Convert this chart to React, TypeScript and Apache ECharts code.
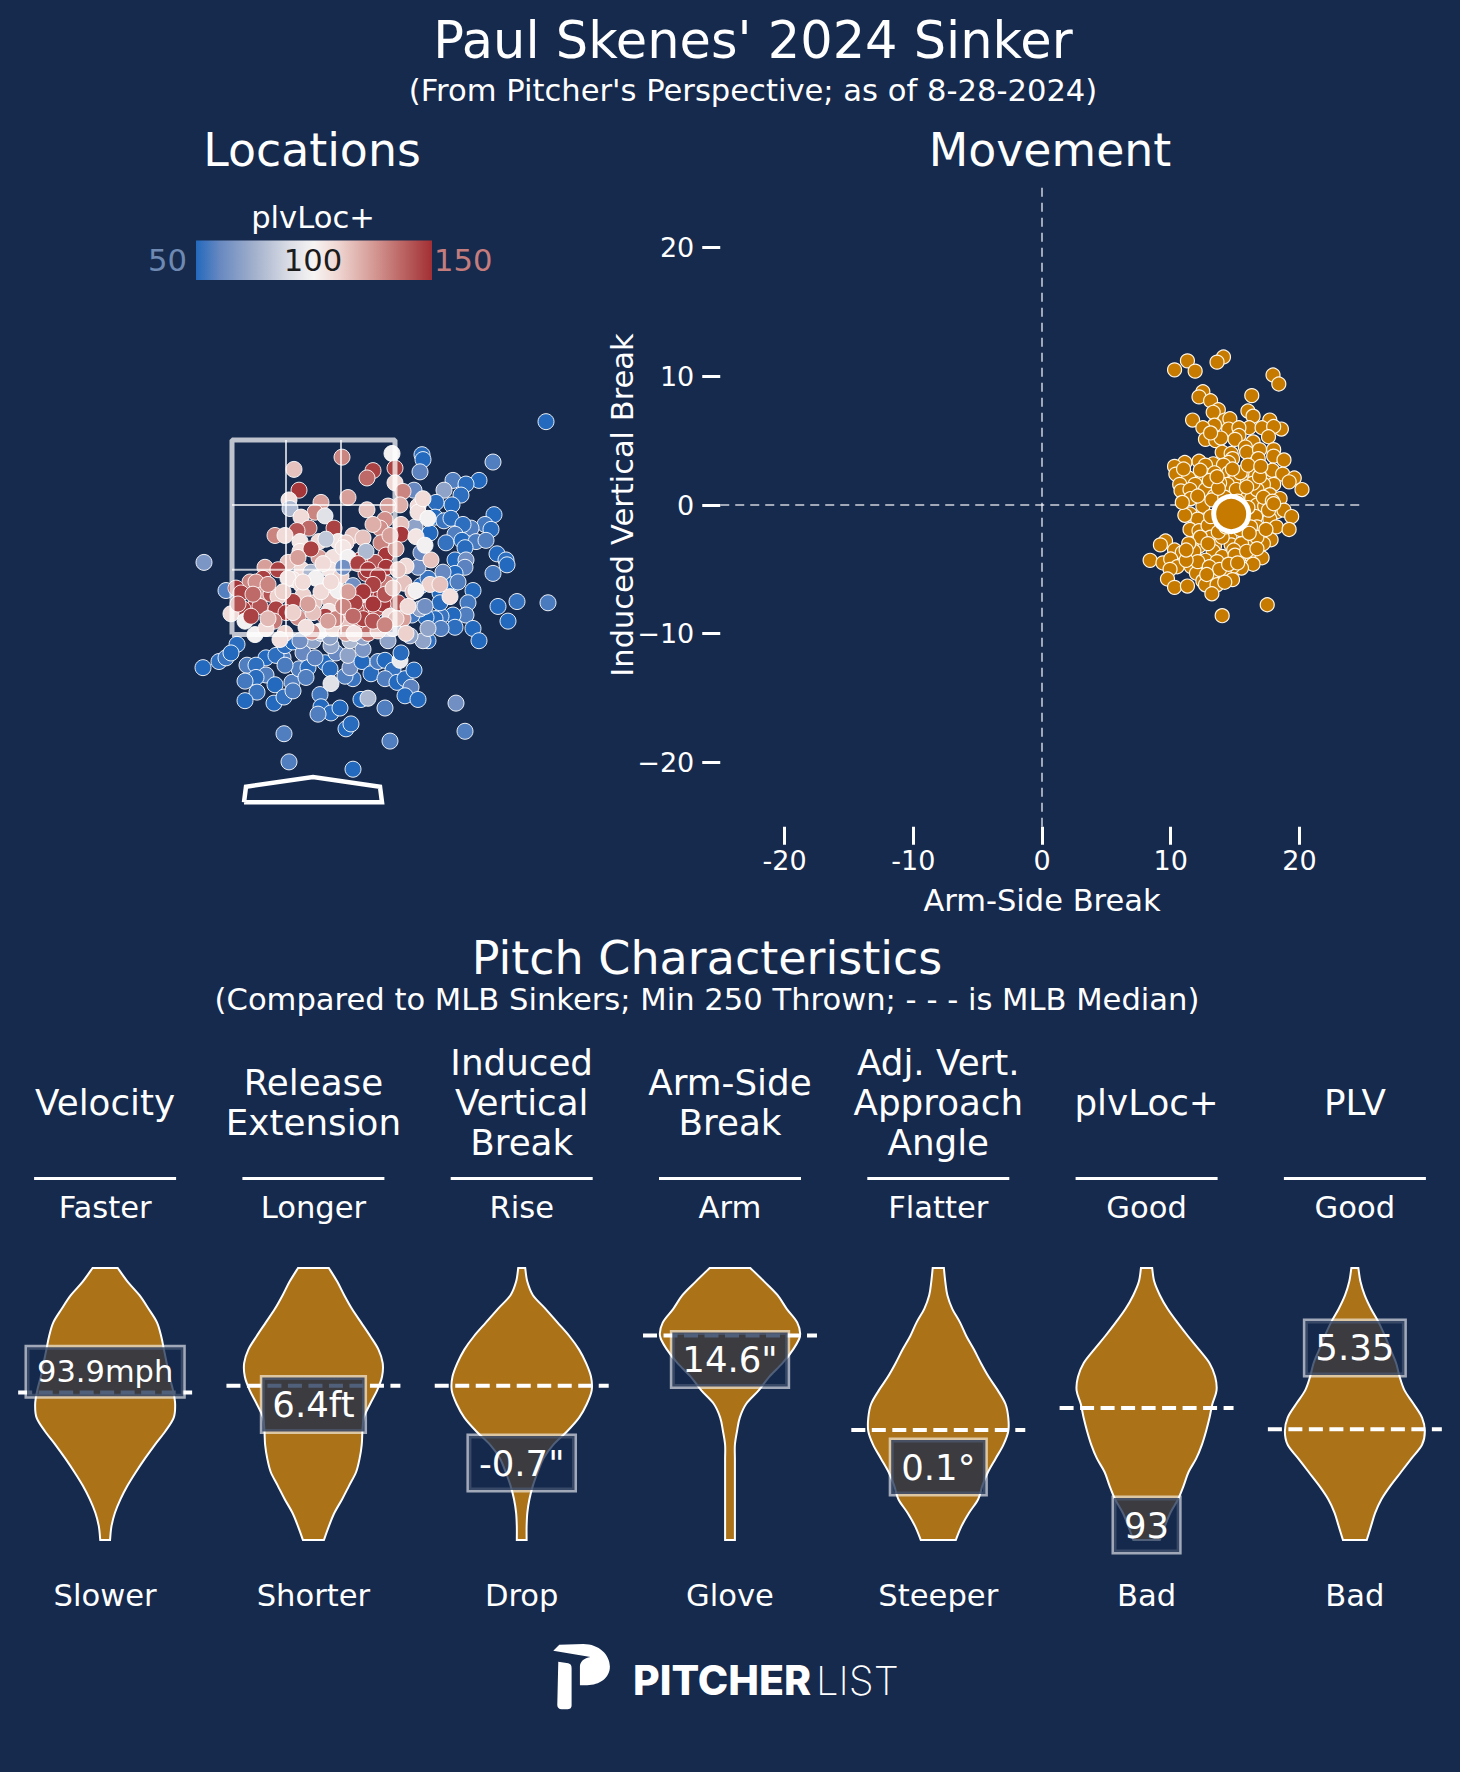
import React, { useEffect, useRef } from "react";
import * as echarts from "echarts";

const FONT = "'DejaVu Sans'";
const BG = "#162a4e";
const ORANGE = "#c67b00";
const VIOLIN = "#ab7218";

// Locations: [horizontal, height, plvLoc+]
const locationPoints = [
[2.33,3.11,50],[1.80,2.78,62],[1.09,2.84,55],[1.10,2.80,52],[1.07,2.70,64],[1.66,2.63,52],[1.40,2.63,62],[1.53,2.60,55],[1.31,2.55,74],[1.48,2.51,56],
[1.01,2.55,66],[1.39,2.43,52],[1.23,2.45,55],[1.81,2.35,52],[1.22,2.33,52],[1.31,2.30,58],[1.38,2.32,55],[1.72,2.27,60],[1.78,2.23,55],[1.58,2.24,62],
[1.50,2.27,56],[1.42,2.19,62],[1.17,2.20,52],[1.02,2.25,74],[1.33,2.12,57],[1.49,2.14,52],[1.63,2.13,61],[1.73,2.14,62],[1.52,2.08,55],[1.42,1.98,52],
[1.53,1.98,68],[1.84,2.03,52],[1.93,1.98,56],[1.94,1.94,52],[1.52,1.92,64],[1.80,1.87,60],[1.42,1.87,52],[1.30,1.88,66],[1.40,1.78,52],[1.45,1.80,62],
[1.60,1.73,52],[1.55,1.63,60],[1.85,1.60,52],[2.04,1.64,57],[2.35,1.63,61],[1.95,1.48,52],[1.53,1.53,62],[1.40,1.53,52],[1.28,1.52,58],[1.22,1.50,55],
[1.13,1.51,52],[0.99,1.53,60],[1.27,1.71,52],[1.27,1.63,55],[1.60,1.42,52],[1.66,1.32,52],[1.42,1.43,56],[1.28,1.42,62],[1.15,1.32,56],[1.10,1.32,74],
[0.97,1.36,74],[1.08,1.77,57],[1.15,1.83,58],[1.05,1.92,68],[1.08,2.04,66],[1.07,1.58,74],[1.15,1.42,74],[1.12,1.60,68],
[-1.09,1.96,70],[-0.87,1.73,62],[-0.76,1.29,55],[-0.94,1.15,56],[-0.87,1.18,58],[-0.82,1.22,52],[-1.10,1.10,52],[-0.66,1.12,62],[-0.47,1.18,52],[-0.30,1.18,62],
[-0.37,1.20,56],[-0.28,1.28,56],[-0.20,1.31,52],[-0.57,1.12,56],[-0.47,1.04,62],[-0.57,1.02,55],[-0.68,0.99,60],[-0.56,0.90,58],[-0.68,0.83,52],[-0.38,0.96,52],
[-0.39,0.81,52],[-0.29,0.86,57],[-0.21,0.98,62],[-0.20,0.91,61],[-0.10,1.22,66],[-0.14,1.09,62],[-0.05,1.10,55],[-0.07,1.02,62],[-0.28,1.12,61],[0.12,1.14,52],
[0.17,1.09,55],[0.23,1.22,66],[0.18,1.28,74],[0.02,1.18,64],[0.07,0.88,60],[0.08,0.78,52],[0.18,0.73,55],[0.27,0.77,52],[0.05,0.72,62],[0.33,0.60,52],
[0.38,0.64,55],[0.18,0.97,92],[0.40,1.01,58],[0.32,1.03,62],[0.37,1.10,68],[0.35,1.20,74],[0.49,1.15,52],[0.50,1.25,70],[0.48,0.84,52],[0.55,0.85,80],
[0.72,0.77,62],[0.58,1.05,55],[0.65,1.15,61],[0.72,1.16,52],[0.80,1.08,57],[0.72,1.01,62],[0.84,0.98,52],[0.92,1.01,55],[1.01,1.08,52],[0.98,0.94,64],
[0.92,0.87,52],[1.05,0.84,52],[0.87,1.16,97],[0.88,1.22,55],[1.43,0.81,68],[1.52,0.58,62],[-0.29,0.56,62],[0.77,0.50,62],[-0.24,0.33,62],[0.40,0.27,52],
[0.75,1.32,74],[0.00,1.32,74],[0.08,1.38,80],[0.37,1.32,80],[0.50,1.35,74],[0.17,1.35,74],[-0.13,1.32,68],
[0.79,2.85,100],[0.29,2.82,130],[-0.19,2.72,118],[0.60,2.71,145],[0.54,2.65,135],[0.82,2.73,145],[0.82,2.61,113],[-0.14,2.55,148],[-0.24,2.47,110],[-0.23,2.40,80],
[0.08,2.45,125],[0.35,2.49,125],[0.54,2.39,118],[0.90,2.54,130],[0.87,2.43,122],[0.75,2.42,125],[1.05,2.42,112],[1.05,2.37,110],[0.02,2.37,130],[-0.12,2.33,112],
[0.12,2.34,92],[0.72,2.31,128],[0.88,2.27,118],[0.67,2.24,128],[0.60,2.27,122],[0.21,2.24,145],[-0.04,2.24,135],[-0.16,2.22,140],[-0.38,2.18,130],[-0.28,2.18,112],
[0.88,2.19,148],[0.40,2.18,118],[0.50,2.16,118],[0.25,2.13,108],[0.33,2.12,115],[0.68,2.12,130],[0.06,2.13,112],[-0.13,2.13,108],[-0.13,2.05,110],[0.73,2.02,148],
[0.47,1.98,148],[0.62,1.96,140],[0.73,1.92,148],[0.06,2.00,125],[0.20,2.00,110],[-0.02,2.07,145],[1.18,1.98,118],[0.93,1.93,112],[-0.25,1.96,118],[-0.48,1.92,125],
[-0.35,1.90,145],[-0.11,1.90,112],[-0.02,1.88,80],[0.53,1.87,145],[0.17,1.90,108],[-0.63,1.80,130],[-0.50,1.83,145],[-0.57,1.80,128],[-0.77,1.75,148],[-0.72,1.71,145],
[-0.20,1.82,108],[-0.25,1.83,108],[-0.12,1.78,112],[0.28,1.85,115],[0.40,1.77,68],[0.73,1.79,132],[0.58,1.73,148],[0.91,1.79,118],[1.00,1.72,118],[0.13,1.75,92],
[0.68,1.69,148],[-0.50,1.70,125],[-0.42,1.70,140],[-0.35,1.68,115],[-0.10,1.69,115],[-0.20,1.64,145],[0.01,1.63,118],[0.41,1.65,132],[0.50,1.67,110],[0.85,1.63,140],
[0.27,1.62,118],[0.17,1.65,120],[-0.57,1.62,148],[-0.53,1.60,140],[-0.70,1.58,145],[-0.82,1.54,112],[-0.68,1.48,100],[-0.37,1.58,145],[-0.27,1.55,148],[-0.15,1.51,128],
[-0.39,1.48,132],[0.16,1.56,108],[0.12,1.52,145],[0.33,1.52,125],[0.53,1.57,145],[0.63,1.58,140],[0.70,1.62,148],[0.43,1.58,140],[0.45,1.47,130],[0.33,1.45,118],
[0.55,1.43,145],[0.55,1.38,135],[0.07,1.40,100],[-0.01,1.39,128],[0.20,1.42,112],[0.33,1.38,125],[0.65,1.40,118],[0.80,1.42,84],[0.90,1.50,125],[0.93,1.38,115],
[-0.58,1.37,100],[-0.47,1.42,112],[-0.28,1.38,115],[-0.33,1.33,110],[-0.07,1.43,110],[0.00,1.55,118],[0.23,1.50,130],[0.41,1.38,108],[0.77,1.52,110],[0.83,1.50,118],
[1.37,1.68,110],[1.17,1.78,115],[1.27,1.78,118],[1.03,1.73,100],[1.10,2.48,112],[1.15,2.32,100],[1.03,2.17,108],[1.12,2.10,100],[0.83,2.07,125],[0.77,2.18,125],
[0.30,2.08,108],[0.13,2.15,84],[0.53,2.05,80],[0.35,2.00,100],[0.30,1.92,68],[0.03,1.83,100],[0.25,1.73,100],
[0.45,1.95,145],[0.55,1.90,148],[0.65,1.85,148],[0.60,1.78,145],[0.50,1.72,148],[0.42,1.63,145],[0.60,1.62,148],[0.72,1.70,140],[0.35,1.72,125],[0.30,1.60,130],
[0.50,1.50,145],[0.60,1.48,140],[0.40,1.52,135],[0.72,1.45,130],[0.15,1.48,125],[-0.05,1.62,125],[-0.20,1.55,115],[-0.45,1.50,120],[-0.60,1.70,135],[-0.75,1.62,140],
[-0.62,1.52,145],[-0.45,1.78,130],[-0.30,1.72,115],[-0.10,1.80,112],[0.08,1.72,112],[0.18,1.80,112],[0.85,1.90,118],[0.80,1.75,118],[0.95,1.60,112],[0.10,1.95,112],[-0.15,2.00,125],
];

// Movement: [arm-side break, induced vertical break]
const movementPoints = [
[14.1,11.5],[13.6,11.1],[11.3,11.2],[10.3,10.5],[11.9,10.4],[17.95,10.1],[18.4,9.4],[12.5,8.8],[12.2,8.4],[13.1,8.1],
[16.3,8.5],[16.0,7.3],[13.7,7.4],[13.3,7.2],[16.4,6.9],[11.7,6.6],[14.2,6.6],[14.6,6.7],[17.7,6.6],[13.4,6.2],
[12.5,6.0],[14.5,5.9],[16.1,6.0],[17.1,6.0],[18.6,5.9],[18.0,6.1],[15.3,6.0],[17.6,5.3],[15.3,5.4],[15.0,5.1],
[12.7,5.1],[13.5,5.0],[13.9,5.2],[13.1,5.6],[16.4,4.9],[15.8,4.5],[15.9,4.1],[16.9,4.3],[18.0,4.3],[18.0,3.8],
[14.0,4.1],[14.7,4.0],[16.8,3.6],[18.8,3.5],[14.8,3.6],[12.2,3.4],[11.1,3.3],[10.3,3.0],[13.3,3.2],[12.7,3.1],
[14.5,3.3],[14.1,3.1],[15.9,2.8],[17.6,2.5],[17.9,2.7],[10.4,2.4],[11.4,2.1],[12.75,2.3],[13.4,2.5],[14.5,2.5],
[15.0,2.2],[16.6,2.3],[18.7,2.4],[19.6,2.1],[19.2,1.8],[20.2,1.2],[15.7,1.7],[14.9,1.8],[14.4,1.6],[13.8,1.7],
[12.4,1.8],[11.9,1.6],[10.7,1.6],[10.8,1.1],[11.5,1.2],[12.7,1.2],[18.0,1.6],[17.2,1.6],[17.7,0.8],[18.5,0.5],
[15.8,1.0],[13.4,0.7],[16.3,0.5],[11.55,0.5],[16.7,0],[17.3,-0.1],[12.5,-0.1],[18.3,-0.5],[18.8,-0.4],[19.4,-0.9],
[11.5,-0.7],[12.1,-1.1],[11.1,-0.8],[17.7,-1.1],[16.6,-0.9],[18.2,-1.7],[19.2,-1.9],[17.3,-2.0],[16.7,-1.7],[11.5,-1.9],
[12.2,-2.0],[12.9,-1.6],[13.1,-2.5],[17.8,-2.7],[17.2,-3.0],[15.8,-2.6],[14.6,-2.5],[14.7,-3.1],[16.1,-3.1],[9.6,-2.8],
[9.2,-3.1],[10.3,-3.5],[10.9,-3.7],[12.2,-3.2],[13.4,-3.2],[13.3,-3.6],[11.6,-3.0],[8.4,-4.3],[9.4,-4.5],[10.0,-4.2],
[10.5,-4.8],[9.95,-5.0],[11.9,-4.1],[12.7,-4.3],[14.0,-4.0],[15.3,-3.5],[15.3,-4.1],[16.3,-4.0],[17.1,-4.1],[16.4,-4.6],
[15.5,-4.9],[14.8,-4.8],[13.6,-4.4],[12.4,-4.8],[11.6,-4.8],[12.0,-5.3],[9.75,-5.75],[10.3,-6.4],[11.3,-6.3],[12.5,-5.9],
[12.7,-6.2],[13.4,-5.4],[14.2,-5.4],[14.8,-5.8],[13.6,-6.2],[13.2,-6.9],[14.0,-8.6],[17.5,-7.75],[15.5,-3.0],[14.9,-3.5],
[14.0,-2.5],[12.3,-2.5],[16.7,-2.5],[11.8,-3.6],[11.4,-3.0],[15.4,-1.9],[16.2,-1.7],[13.1,-0.9],[16.7,1.2],[15.1,1.2],
[17.2,0.6],[17.9,0.3],[16.4,1.7],[13.0,1.9],[16.9,2.2],[15.4,2.5],
[13.9,-0.5],[13.2,0.4],[14.2,0.6],[15.2,0.3],[16.0,-0.2],[15.9,1.4],[13.7,1.3],[12.1,0.7],[12.9,-3.0],[13.7,-2.1],
[14.3,-1.7],[15.0,-3.9],[15.9,-3.6],[16.7,-3.4],[17.4,-1.9],[16.1,-2.2],[12.1,-4.4],[13.0,-4.8],[13.8,-5.0],[14.5,-4.6],
[15.2,-4.5],[12.8,-5.4],[14.2,-6.0],[11.2,-4.3],[11.2,-3.5],[17.6,-0.4],[18.0,0.1],[13.6,2.2],[14.8,2.8],[16.0,3.1],
[17.0,3.0],[12.3,2.7],[11.0,2.8],[10.9,0.2],
];
const movementMean = [14.7, -0.7];
const zeroLineRange = [-25, 25];

// strike zone and home plate
const zoneLeft = -0.81, zoneRight = 0.82, zoneTop = 2.96, zoneBottom = 1.37;
const zoneInnerX = [-0.27, 0.28];
const zoneInnerY = [2.43, 1.90];
const homePlate = [[-0.69,0],[-0.67,0.127],[0,0.207],[0.67,0.127],[0.69,0],[-0.69,0]];

const tickValues = [-20, -10, 0, 10, 20];
const xTickLabels = ["-20", "-10", "0", "10", "20"];
const yTickLabels = ["\u221220", "\u221210", "0", "10", "20"];

// Violins: density (0-100) at each level of its own scale
const levels = [0,5,10,15,20,25,30,35,40,45,50,55,60,65,70,75,80,85,90,95,100];
const velocity = [7,9,14,22,32,44,57,71,86,98,100,97,92,88,84,80,74,62,49,32,18];
const extension = [15,22,30,41,51,61,66,69,70,72,81,91,98,99,93,81,68,55,44,34,22];
const ivb = [7,7,8,11,16,23,31,45,65,82,93,100,99,92,82,68,51,34,16,8,5];
const armSide = [7,7,7,7,7,7,7,7,10,14,23,41,56,75,90,100,96,81,68,49,29];
const vaa = [25,33,44,57,63,71,82,93,100,100,96,85,72,61,51,40,31,20,13,10,8];
const plvLoc = [19,26,34,45,53,60,71,79,85,90,94,100,98,90,75,59,44,30,19,11,8];
const plv = [17,23,29,38,51,66,81,96,100,96,84,71,64,59,51,43,34,23,14,8,5];
const densities = [velocity, extension, ivb, armSide, vaa, plvLoc, plv];
const medianLevels = [54.2, 56.7, 56.7, 75.2, 40.4, 48.5, 40.7];
const valueLevels = [61.9, 49.8, 28.3, 66.4, 26.8, 5.5, 70.6];
const valueLabels = ["93.9mph", "6.4ft", "-0.7\"", "14.6\"", "0.1\u00b0", "93", "5.35"];
const headers = [["Velocity"], ["Release", "Extension"], ["Induced", "Vertical", "Break"], ["Arm-Side", "Break"], ["Adj. Vert.", "Approach", "Angle"], ["plvLoc+"], ["PLV"]];
const topLabels = ["Faster", "Longer", "Rise", "Arm", "Flatter", "Good", "Good"];
const bottomLabels = ["Slower", "Shorter", "Drop", "Glove", "Steeper", "Bad", "Bad"];

const colorStops = [
  [0, "#2369bd"], [0.1, "#6788c0"], [0.25, "#a3b1cc"], [0.4, "#dcdee6"], [0.5, "#f6f4f3"],
  [0.6, "#efd6d2"], [0.75, "#d59a95"], [0.9, "#b65a5a"], [1, "#a22f33"],
] as [number, string][];

const logoPath =
  "M160 92 L178 74 L250 72 C298 72 330 105 330 140 C330 175 298 196 262 196 L240 196 L240 140 C240 125 252 114 272 111 Z " +
  "M175 125 L205 130 C212 132 215 136 215 145 L215 255 C215 265 210 268 200 268 L185 268 C177 268 172 262 172 255 Z";
echarts.graphic.registerShape("plogo", echarts.graphic.extendPath(logoPath, {}) as any);

function catmull(pts: number[][]) {
  let d = "";
  for (let i = 0; i < pts.length - 1; i++) {
    const p0 = pts[Math.max(i - 1, 0)], p1 = pts[i], p2 = pts[i + 1], p3 = pts[Math.min(i + 2, pts.length - 1)];
    d += ` C${p1[0] + (p2[0] - p0[0]) / 6} ${p1[1] + (p2[1] - p0[1]) / 6} ${p2[0] - (p3[0] - p1[0]) / 6} ${p2[1] - (p3[1] - p1[1]) / 6} ${p2[0]} ${p2[1]}`;
  }
  return d;
}

const SLOT_MAX_HALF = 0.336;
const MEDIAN_HALF = 0.4176;

function renderViolin(params: any, api: any) {
  const i = params.dataIndex;
  const dens = densities[i];
  const left = levels.map((l, k) => api.coord([i - (dens[k] / 100) * SLOT_MAX_HALF, l]));
  const right = levels.map((l, k) => api.coord([i + (dens[k] / 100) * SLOT_MAX_HALF, l]));
  const revLeft = left.slice().reverse();
  const d = `M${right[0][0]} ${right[0][1]}` + catmull(right) + ` L${revLeft[0][0]} ${revLeft[0][1]}` + catmull(revLeft) + " Z";
  const a = api.coord([i - MEDIAN_HALF, medianLevels[i]]);
  const b = api.coord([i + MEDIAN_HALF, medianLevels[i]]);
  const c = api.coord([i, valueLevels[i]]);
  return {
    type: "group",
    children: [
      { type: "path", shape: { pathData: d }, style: { fill: VIOLIN, stroke: "#ffffff", lineWidth: 2 } },
      { type: "line", shape: { x1: a[0], y1: a[1], x2: b[0], y2: b[1] }, style: { stroke: "#ffffff", lineWidth: 4, lineDash: [14, 6.5] } },
      {
        type: "text", x: c[0], y: c[1],
        style: {
          text: valueLabels[i], align: "center", verticalAlign: "middle", fill: "#ffffff",
          fontSize: i === 0 ? 30.5 : 35.5, fontFamily: "DejaVu Sans", lineHeight: 40,
          backgroundColor: "rgba(22,42,78,0.75)", borderColor: "rgba(255,255,255,0.6)", borderWidth: 2.5,
          padding: i === 0 ? [2.5, 10, 6.5, 10] : [4.5, 10, 9.5, 10],
        },
      },
    ],
  };
}

const centers = [105.1, 313.4, 521.7, 730, 938.3, 1146.6, 1354.9];

function gText(text: string, x: number, y: number, fontSize: number, fill = "#ffffff", align = "center", extra: any = {}) {
  return { type: "text", x, y, silent: true, style: { text, x: 0, y: 0, fontSize, fontFamily: "DejaVu Sans", fill, align, verticalAlign: "middle", ...extra } };
}

function buildGraphics() {
  const g: any[] = [];
  g.push(gText("plvLoc+", 313, 217, 30.6));
  g.push({
    type: "rect", shape: { x: 196, y: 240.5, width: 236, height: 39.5 },
    style: { fill: new echarts.graphic.LinearGradient(0, 0, 1, 0, colorStops.map(([offset, color]) => ({ offset, color }))) },
  });
  g.push(gText("50", 187, 260, 30.6, "#6f8ab2", "right"));
  g.push(gText("100", 313, 260, 30.6, "#1c1c1c"));
  g.push(gText("150", 434, 260, 30.6, "#c57c7c", "left"));
  centers.forEach((cx, i) => {
    const lines = headers[i];
    const yc = 1102;
    lines.forEach((t, k) => g.push(gText(t, cx, yc + (k - (lines.length - 1) / 2) * 40, 35.7)));
    g.push({ type: "line", shape: { x1: cx - 71, y1: 1178.5, x2: cx + 71, y2: 1178.5 }, style: { stroke: "#ffffff", lineWidth: 3 } });
    g.push(gText(topLabels[i], cx, 1207, 30.6));
    g.push(gText(bottomLabels[i], cx, 1595, 30.6));
  });
  g.push({ type: "plogo", x: 500, y: 1620, scaleX: 1 / 3, scaleY: 1 / 3, style: { fill: "#ffffff" } });
  g.push({ type: "text", x: 633, y: 1680, style: { text: "PITCHER", fontFamily: "Inter", fontWeight: 800, fontSize: 41, fill: "#ffffff", align: "left", verticalAlign: "middle" } });
  g.push({ type: "text", x: 816, y: 1680, style: { text: "LIST", fontFamily: "Inter", fontWeight: 200, fontSize: 40, fill: "#ffffff", align: "left", verticalAlign: "middle" } });
  return g;
}

function title(text: string, x: number, y: number, fontSize: number) {
  return { text, left: x, top: y, padding: 0, textAlign: "center", textVerticalAlign: "middle", textStyle: { color: "#ffffff", fontFamily: FONT, fontSize, fontWeight: "normal" } };
}

function zoneSeries(data: number[][], width: number) {
  return {
    type: "line", xAxisIndex: 0, yAxisIndex: 0, data, symbol: "none", silent: true, z: 5, clip: false,
    lineStyle: { color: "#ffffff", width, opacity: 0.72 },
  };
}

export default function App() {
  const ref = useRef<HTMLDivElement>(null);
  useEffect(() => {
    const chart = echarts.init(ref.current!, undefined, { renderer: "svg" });
    const option: any = {
      animation: false,
      backgroundColor: BG,
      title: [
        title("Paul Skenes' 2024 Sinker", 753, 40, 51),
        title("(From Pitcher's Perspective; as of 8-28-2024)", 753, 90, 30.6),
        title("Locations", 312, 150, 45.8),
        title("Movement", 1050, 150, 45.8),
        title("Pitch Characteristics", 707, 958, 46),
        title("(Compared to MLB Sinkers; Min 250 Thrown; - - - is MLB Median)", 707, 999, 30.6),
      ],
      grid: [
        { left: 70, top: 300.5, width: 485, height: 514 },
        { left: 720.25, top: 183.25, width: 643.5, height: 643.5 },
        { left: 1, top: 1268, width: 1458, height: 272 },
      ],
      xAxis: [
        { gridIndex: 0, type: "value", min: -2.43, max: 2.42, show: false },
        {
          gridIndex: 1, type: "value", min: -25, max: 25, name: "Arm-Side Break", nameLocation: "middle", nameGap: 58.5,
          nameTextStyle: { color: "#ffffff", fontFamily: FONT, fontSize: 30.5 },
          axisLine: { show: false, onZero: false }, splitLine: { show: false },
          axisTick: { show: true, length: 18, customValues: tickValues, lineStyle: { color: "#ffffff", width: 3 } },
          axisLabel: { show: true, customValues: tickValues, margin: 20, color: "#ffffff", fontFamily: FONT, fontSize: 27, hideOverlap: false,
            formatter: (v: number) => xTickLabels[tickValues.indexOf(v)] ?? "" },
        },
        { gridIndex: 2, type: "value", min: -0.5, max: 6.5, show: false },
      ],
      yAxis: [
        { gridIndex: 0, type: "value", min: -0.1, max: 4.1, show: false },
        {
          gridIndex: 1, type: "value", min: -25, max: 25, name: "Induced Vertical Break", nameLocation: "middle", nameGap: 82, nameRotate: 90, nameMoveOverlap: false,
          nameTextStyle: { color: "#ffffff", fontFamily: FONT, fontSize: 30.5 },
          axisLine: { show: false, onZero: false }, splitLine: { show: false },
          axisTick: { show: true, length: 18, customValues: tickValues, lineStyle: { color: "#ffffff", width: 3 } },
          axisLabel: { show: true, customValues: tickValues, margin: 26, color: "#ffffff", fontFamily: FONT, fontSize: 27, hideOverlap: false,
            formatter: (v: number) => yTickLabels[tickValues.indexOf(v)] ?? "" },
        },
        { gridIndex: 2, type: "value", min: 0, max: 100, show: false },
      ],
      visualMap: {
        show: false, seriesIndex: 0, dimension: 2, min: 54, max: 150,
        inRange: { color: colorStops.map((s) => s[1]) },
      },
      series: [
        {
          type: "scatter", xAxisIndex: 0, yAxisIndex: 0, data: locationPoints, symbolSize: 16, z: 3, clip: true,
          itemStyle: { borderColor: "rgba(255,255,255,0.9)", borderWidth: 1, opacity: 1 },
        },
        zoneSeries([[zoneLeft, zoneBottom], [zoneLeft, zoneTop], [zoneRight, zoneTop], [zoneRight, zoneBottom], [zoneLeft, zoneBottom]], 5),
        zoneSeries([[zoneInnerX[0], zoneBottom], [zoneInnerX[0], zoneTop]], 2),
        zoneSeries([[zoneInnerX[1], zoneBottom], [zoneInnerX[1], zoneTop]], 2),
        zoneSeries([[zoneLeft, zoneInnerY[0]], [zoneRight, zoneInnerY[0]]], 2),
        zoneSeries([[zoneLeft, zoneInnerY[1]], [zoneRight, zoneInnerY[1]]], 2),
        {
          type: "line", xAxisIndex: 0, yAxisIndex: 0, data: homePlate, symbol: "none", silent: true, z: 4, clip: false,
          lineStyle: { color: "#ffffff", width: 4.5, join: "miter" },
        },
        {
          type: "line", xAxisIndex: 1, yAxisIndex: 1, data: zeroLineRange.map((v) => [v, 0]), symbol: "none", silent: true, z: 2,
          lineStyle: { color: "#ffffff", opacity: 0.6, width: 2, type: [9, 6] },
        },
        {
          type: "line", xAxisIndex: 1, yAxisIndex: 1, data: zeroLineRange.map((v) => [0, v]), symbol: "none", silent: true, z: 2,
          lineStyle: { color: "#ffffff", opacity: 0.6, width: 2, type: [9, 6] },
        },
        {
          type: "scatter", xAxisIndex: 1, yAxisIndex: 1, data: movementPoints, symbolSize: 14, z: 3,
          itemStyle: { color: ORANGE, borderColor: "#fff6e6", borderWidth: 1.2, opacity: 1 },
        },
        {
          type: "scatter", xAxisIndex: 1, yAxisIndex: 1, data: [movementMean], symbolSize: 35, z: 4,
          itemStyle: { color: ORANGE, borderColor: "#ffffff", borderWidth: 5, opacity: 1 },
        },
        {
          type: "custom", xAxisIndex: 2, yAxisIndex: 2, renderItem: renderViolin, clip: false, z: 3,
          data: medianLevels.map((m, i) => [i, m]), encode: { x: 0, y: 1 },
        },
      ],
      graphic: buildGraphics(),
    };
    chart.setOption(option);
    return () => chart.dispose();
  }, []);
  return <div ref={ref} style={{ position: "absolute", left: 0, top: 0, width: 1460, height: 1772 }} />;
}
